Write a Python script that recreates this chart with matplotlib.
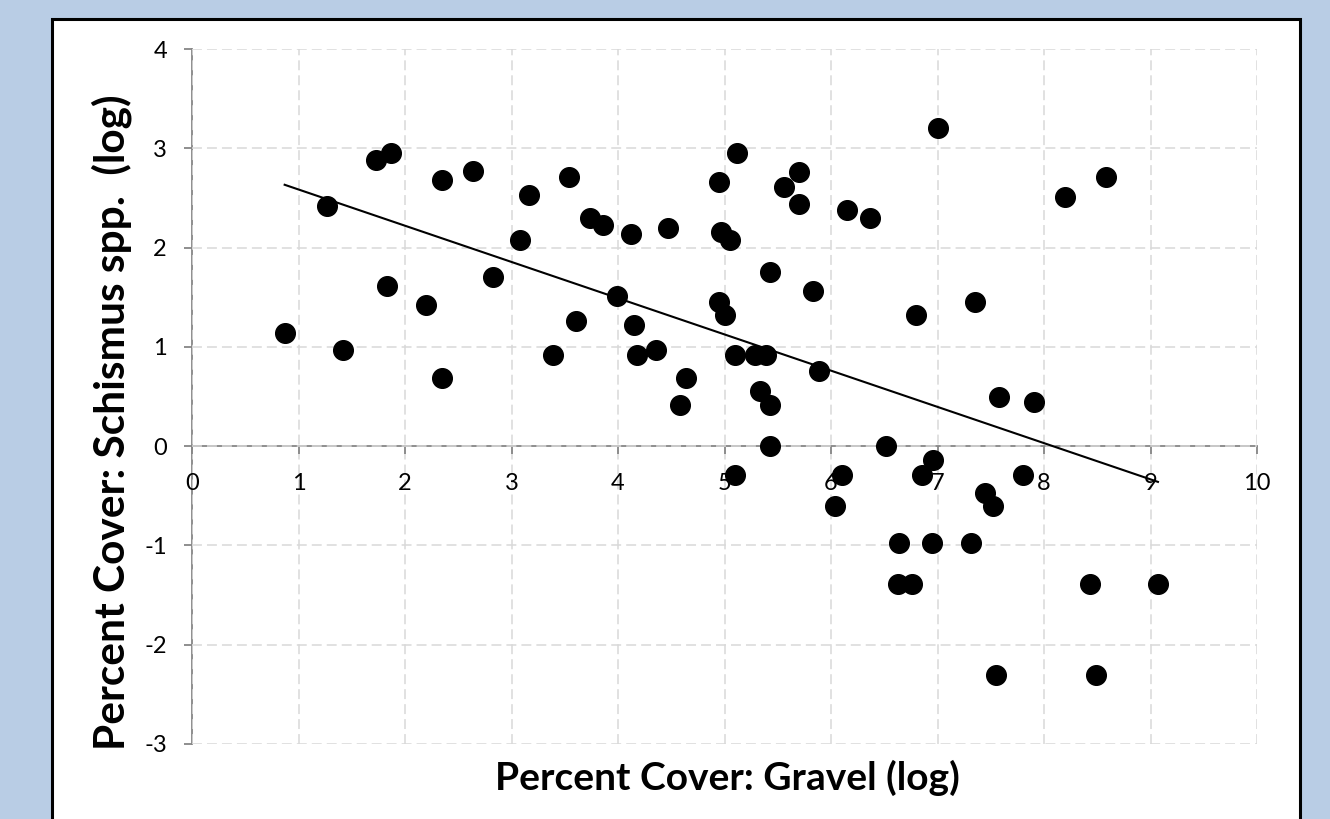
import numpy as np
import matplotlib
matplotlib.use('Agg')
import matplotlib.pyplot as plt
from matplotlib.patches import Rectangle

plt.rcParams['font.family'] = ['Lato', 'DejaVu Sans']
plt.rcParams['axes.unicode_minus'] = False

# cobertura de cascalho (log) x cobertura de Schismus (log)
gravel = [0.87, 1.27, 1.415, 1.73, 1.866, 1.834, 2.20, 2.345, 2.345, 2.64,
          2.83, 3.08, 3.16, 3.39, 3.54, 3.61, 3.74, 3.86, 3.99, 4.12,
          4.47, 4.15, 4.18, 4.36, 4.64, 4.58, 4.95, 5.12, 4.97, 5.05,
          4.95, 5.00, 5.10, 5.29, 5.39, 5.33, 5.43, 5.43, 5.10, 5.43,
          5.56, 5.70, 5.70, 5.83, 5.89, 6.15, 6.37, 7.00, 6.80, 7.35,
          6.52, 6.10, 6.96, 6.85, 7.58, 7.91, 7.80, 7.45, 6.04, 7.52,
          6.64, 6.95, 7.31, 6.63, 6.76, 7.55, 8.20, 8.58, 8.43, 9.07,
          8.49]
schismus = [1.14, 2.42, 0.97, 2.88, 2.95, 1.61, 1.42, 2.68, 0.69, 2.77,
            1.70, 2.08, 2.53, 0.92, 2.71, 1.26, 2.30, 2.23, 1.51, 2.14,
            2.20, 1.22, 0.92, 0.97, 0.69, 0.41, 2.66, 2.95, 2.16, 2.08,
            1.45, 1.32, 0.92, 0.92, 0.92, 0.56, 0.41, 0.00, -0.29, 1.75,
            2.61, 2.76, 2.44, 1.56, 0.76, 2.38, 2.30, 3.20, 1.32, 1.45,
            0.00, -0.29, -0.14, -0.29, 0.49, 0.44, -0.29, -0.47, -0.60, -0.60,
            -0.98, -0.98, -0.98, -1.39, -1.39, -2.31, 2.51, 2.71, -1.39, -1.39,
            -2.31]

x_ticks = list(range(0, 11))
y_ticks = list(range(-3, 5))

x = np.array(gravel)
y = np.array(schismus)

fig = plt.figure(figsize=(13.3, 8.19), dpi=100)
fig.patch.set_facecolor('#B9CDE5')
# caixa branca com borda preta (atras dos eixos)
fig.patches.append(Rectangle((52 / 1330, -0.05), 1248 / 1330, 1 - 19 / 819 + 0.05,
                             transform=fig.transFigure, facecolor='white',
                             edgecolor='black', linewidth=2.2, zorder=-5))

ax = fig.add_axes([192 / 1330, 1 - 744 / 819, 1065 / 1330, 695 / 819])
ax.set_facecolor('none')
ax.set_xlim(0, 10)
ax.set_ylim(-3, 4)
ax.set_xticks(x_ticks)
ax.set_yticks(y_ticks)

ax.grid(True, color='#D9D9D9', linestyle=(0, (6.5, 3.3)), linewidth=1.1, zorder=0)
for s in ['top', 'right']:
    ax.spines[s].set_visible(False)
ax.spines['bottom'].set_position(('data', 0))
for s in ['left', 'bottom']:
    ax.spines[s].set_color('#868686')
    ax.spines[s].set_linewidth(1.3)
    ax.spines[s].set_zorder(1)

ax.tick_params(axis='both', direction='out', length=6, width=1.3, color='#868686',
               labelsize=17, labelcolor='black')
ax.tick_params(axis='x', pad=13)
ax.tick_params(axis='y', pad=12)

# linha de tendencia (minimos quadrados)
coef = np.polyfit(x, y, 1)
x_line = np.array([x.min(), x.max()])
ax.plot(x_line, np.polyval(coef, x_line), color='black', linewidth=1.5, zorder=2,
        clip_on=False)

ax.scatter(x, y, s=200, color='black', zorder=3, clip_on=False)

fig.text(727 / 1330, 1 - 778 / 819, 'Percent Cover: Gravel (log)', ha='center',
         va='center', fontsize=28, fontweight='bold')
fig.text(112 / 1330, 1 - 422 / 819, 'Percent Cover: Schismus spp.  (log)', ha='center',
         va='center', rotation=90, fontsize=30.5, fontweight='bold')

fig.savefig('out.png', dpi=100, facecolor=fig.get_facecolor())
